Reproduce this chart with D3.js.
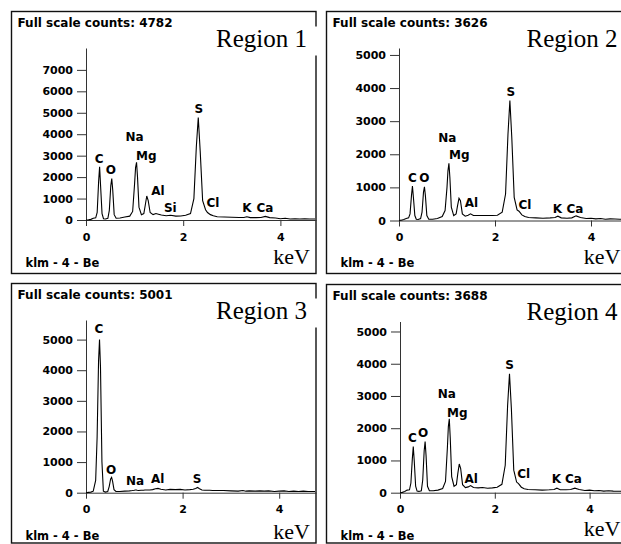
<!DOCTYPE html>
<html>
<head>
<meta charset="utf-8">
<script src="https://cdn.jsdelivr.net/npm/d3@7"></script>
<style>
    body { margin: 0; background: #fff; }
    svg { display: block; }
    .sans { font-family: "DejaVu Sans", sans-serif; font-weight: bold; fill: #000; }
    .serif { font-family: "Liberation Serif", "Times New Roman", serif; fill: #000; }
    .axis path, .axis line { stroke: #333; }
    .axis text { font-family: "DejaVu Sans", sans-serif; font-weight: bold; font-size: 11px; fill: #000; }
</style>
</head>
<body>
<div id="chart"></div>
<script>
// Shared energy grid (keV) for the four EDS spectra
const energies = [0, 0.05, 0.1, 0.15, 0.2, 0.23, 0.26, 0.28, 0.3, 0.33, 0.36, 0.4, 0.45, 0.48, 0.51, 0.53,
    0.55, 0.58, 0.62, 0.7, 0.8, 0.9, 0.96, 1.0, 1.02, 1.04, 1.06, 1.09, 1.14, 1.19, 1.22, 1.25, 1.28, 1.32,
    1.38, 1.44, 1.49, 1.55, 1.65, 1.74, 1.85, 1.95, 2.05, 2.15, 2.22, 2.27, 2.31, 2.35, 2.4, 2.46, 2.5, 2.56,
    2.62, 2.7, 2.85, 3.0, 3.15, 3.25, 3.31, 3.38, 3.5, 3.6, 3.69, 3.78, 3.9, 4.0, 4.1, 4.2, 4.3, 4.4, 4.5,
    4.6, 4.76];

const region1Counts = [0, 10, 30, 80, 100, 350, 1800, 2480, 1600, 300, 60, 50, 80, 450, 1600, 1930,
    1400, 250, 80, 90, 140, 180, 400, 1700, 2450, 2690, 2000, 600, 250, 300, 700, 1120, 900, 350,
    250, 300, 270, 230, 200, 220, 180, 190, 220, 300, 1000, 3400, 4782, 3200, 900, 480, 350, 250,
    200, 150, 140, 130, 120, 120, 150, 110, 110, 120, 170, 110, 90, 60, 80, 50, 60, 50, 55,
    45, 50];

const region2Counts = [0, 10, 30, 60, 80, 200, 750, 1040, 700, 150, 40, 30, 60, 250, 850, 1020,
    750, 150, 40, 40, 60, 120, 300, 1000, 1500, 1728, 1300, 400, 150, 200, 450, 670, 600, 200,
    130, 160, 200, 150, 150, 150, 150, 150, 160, 250, 800, 2600, 3626, 2500, 700, 320, 280, 170,
    120, 90, 80, 70, 80, 90, 130, 80, 70, 80, 140, 90, 60, 70, 50, 60, 40, 50, 45,
    40, 40];

const region3Counts = [0, 10, 20, 50, 400, 1800, 4300, 5001, 4100, 1000, 50, 20, 40, 200, 450, 500,
    380, 100, 40, 40, 50, 60, 70, 80, 90, 90, 80, 70, 80, 80, 90, 90, 90, 90,
    100, 130, 140, 110, 90, 110, 100, 110, 90, 100, 110, 140, 170, 130, 90, 80, 80, 80,
    70, 70, 70, 60, 50, 70, 50, 60, 50, 60, 50, 60, 40, 50, 60, 40, 50, 40, 50,
    40, 40];

const region4Counts = [0, 10, 40, 80, 90, 300, 1050, 1430, 1000, 200, 50, 40, 60, 400, 1300, 1585,
    1150, 200, 60, 60, 80, 130, 350, 1400, 2050, 2290, 1700, 500, 200, 250, 600, 890, 750, 250,
    160, 180, 220, 160, 150, 160, 140, 150, 170, 260, 850, 2700, 3688, 2600, 700, 330, 280, 170,
    120, 100, 90, 80, 90, 100, 140, 90, 90, 100, 140, 100, 70, 80, 60, 70, 50, 60, 50,
    45, 50];

const fullScaleCounts = [4782, 3626, 5001, 3688];
const regionNames = ["Region 1", "Region 2", "Region 3", "Region 4"];
const detectorLabel = "klm - 4 - Be";
const xTickValues = [0, 2, 4];
const yTicksRegion1 = [0, 1000, 2000, 3000, 4000, 5000, 6000, 7000];
const yTicksOther = [0, 1000, 2000, 3000, 4000, 5000];

// peak labels: element, energy (keV) and count level where the label sits
const peaks1 = [["C", 0.27, 2640], ["O", 0.51, 2140], ["Na", 1.0, 3680], ["Mg", 1.24, 2800], ["Al", 1.48, 1170],
    ["Si", 1.735, 390], ["S", 2.32, 5000], ["Cl", 2.61, 590], ["K", 3.31, 360], ["Ca", 3.68, 360]];
const peaks2 = [["C", 0.277, 1170], ["O", 0.53, 1170], ["Na", 1.006, 2380], ["Mg", 1.257, 1850], ["Al", 1.51, 420],
    ["S", 2.33, 3760], ["Cl", 2.625, 350], ["K", 3.30, 240], ["Ca", 3.667, 240]];
const peaks3 = [["C", 0.269, 5210], ["O", 0.518, 610], ["Na", 1.014, 250], ["Al", 1.484, 310], ["S", 2.30, 310]];
const peaks4 = [["C", 0.26, 1580], ["O", 0.49, 1740], ["Na", 0.987, 2930], ["Mg", 1.21, 2360], ["Al", 1.50, 290],
    ["S", 2.31, 3830], ["Cl", 2.61, 450], ["K", 3.30, 290], ["Ca", 3.66, 290]];

// panel geometry (pixels)
const panels = [
    { box: [11.5, 11.5, 304.5, 262], x0: 86, y0: 220, kev: 48.6, top: 48, yMax: 8020, keV: 264, klm: 266.5,
      counts: region1Counts, ticks: yTicksRegion1, peaks: peaks1 },
    { box: [326.5, 11.5, 300, 262], x0: 399, y0: 220.5, kev: 48, top: 48, yMax: 5210, keV: 264, klm: 266.5,
      counts: region2Counts, ticks: yTicksOther, peaks: peaks2 },
    { box: [11.5, 283.5, 304.5, 259.5], x0: 86, y0: 492.7, kev: 48.3, top: 320, yMax: 5640, keV: 539, klm: 540,
      counts: region3Counts, ticks: yTicksOther, peaks: peaks3 },
    { box: [326.5, 284.5, 300, 258.5], x0: 400, y0: 492.7, kev: 47.4, top: 321.5, yMax: 5310, keV: 536, klm: 539.5,
      counts: region4Counts, ticks: yTicksOther, peaks: peaks4 }
];

const svg = d3.select('#chart')
    .append('svg')
    .attr('width', 621)
    .attr('height', 544);

panels.forEach((p, i) => {
    const [bx, by, bw, bh] = p.box;
    const right = bx + bw;
    const g = svg.append('g');

    g.append('rect')
        .attr('x', bx).attr('y', by)
        .attr('width', bw).attr('height', bh)
        .attr('fill', '#fff')
        .attr('stroke', '#111')
        .attr('stroke-width', 1.4);

    const x = d3.scaleLinear().domain([0, (right - p.x0) / p.kev]).range([p.x0, right]);
    const y = d3.scaleLinear().domain([0, p.yMax]).range([p.y0, p.top]);

    // Axes
    g.append('g')
        .attr('class', 'axis')
        .attr('transform', `translate(0,${p.y0})`)
        .call(d3.axisBottom(x).tickValues(xTickValues).tickFormat(d3.format('d'))
            .tickSize(6).tickSizeOuter(0).tickPadding(7));

    g.append('g')
        .attr('class', 'axis')
        .attr('transform', `translate(${p.x0},0)`)
        .call(d3.axisLeft(y).tickValues(p.ticks).tickFormat(d3.format('d'))
            .tickSize(9).tickSizeOuter(0).tickPadding(4));

    // Spectrum
    const clipId = 'clip' + i;
    g.append('clipPath').attr('id', clipId)
        .append('rect')
        .attr('x', p.x0).attr('y', by)
        .attr('width', right - p.x0 - 1).attr('height', p.y0 - by + 3);

    const line = d3.line()
        .x(d => x(d[0]))
        .y(d => y(d[1]));

    g.append('path')
        .datum(energies.map((e, k) => [e, p.counts[k]]))
        .attr('clip-path', `url(#${clipId})`)
        .attr('fill', 'none')
        .attr('stroke', '#000')
        .attr('stroke-width', 1.1)
        .attr('d', line);

    // Peak labels
    g.selectAll('.peak')
        .data(p.peaks)
        .enter()
        .append('text')
        .attr('class', 'sans')
        .attr('font-size', 12)
        .attr('text-anchor', 'middle')
        .attr('x', d => x(d[1]))
        .attr('y', d => y(d[2]))
        .text(d => d[0]);

    // Header / footer texts
    g.append('text')
        .attr('class', 'sans')
        .attr('font-size', 12)
        .attr('x', bx + 6)
        .attr('y', by + 15)
        .text('Full scale counts: ' + fullScaleCounts[i]);

    g.append('rect')
        .attr('x', right - 112).attr('y', by + 15)
        .attr('width', 114).attr('height', 29)
        .attr('fill', '#fff');

    g.append('text')
        .attr('class', 'serif')
        .attr('font-size', 25)
        .attr('text-anchor', 'end')
        .attr('x', right - 9)
        .attr('y', by + 35)
        .text(regionNames[i]);

    g.append('text')
        .attr('class', 'sans')
        .attr('font-size', 11.5)
        .attr('x', bx + 14)
        .attr('y', p.klm)
        .text(detectorLabel);

    g.append('text')
        .attr('class', 'serif')
        .attr('font-size', 22)
        .attr('text-anchor', 'end')
        .attr('x', right - 6)
        .attr('y', p.keV)
        .text('keV');
});
</script>
</body>
</html>
